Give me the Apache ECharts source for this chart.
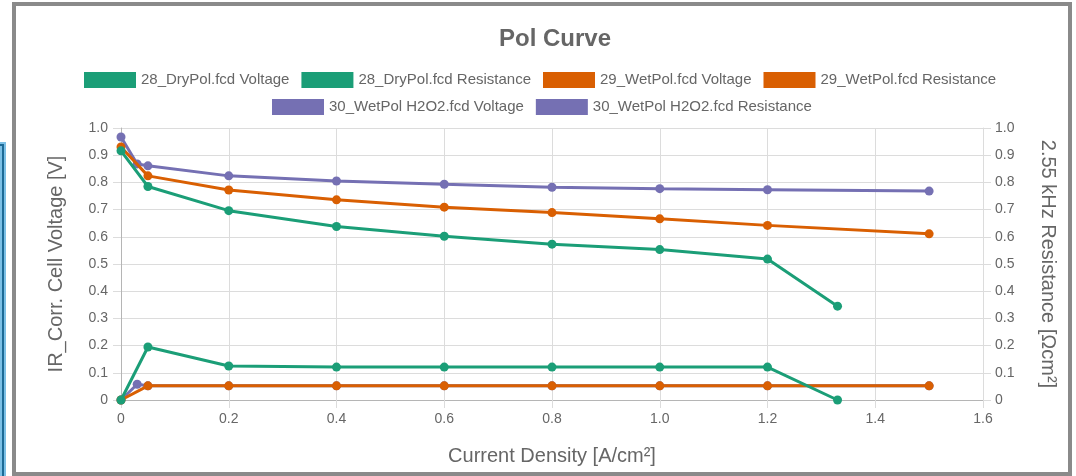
<!DOCTYPE html>
<html><head><meta charset="utf-8">
<script src="https://cdn.jsdelivr.net/npm/echarts@6/dist/echarts.min.js"></script>
<style>
html,body{margin:0;padding:0;background:#fff;width:1076px;height:476px;overflow:hidden;}
#chart{position:absolute;left:0;top:0;width:1076px;height:476px;}
#frame{position:absolute;left:12px;top:2px;width:1060px;height:474px;box-sizing:border-box;border:4px solid #8a8a8a;pointer-events:none;}
#side{position:absolute;left:-100px;top:144px;width:104px;height:400px;box-sizing:border-box;border:2px solid #1d6a96;box-shadow:0 0 0 2px #7cc0e6, inset 0 0 0 2px #7cc0e6;}
</style></head><body>
<div id="side"></div>
<div id="chart"></div>
<div id="frame"></div>
<script>
// ---- data ----
const seriesNames = [
  '28_DryPol.fcd Voltage', '28_DryPol.fcd Resistance',
  '29_WetPol.fcd Voltage', '29_WetPol.fcd Resistance',
  '30_WetPol H2O2.fcd Voltage', '30_WetPol H2O2.fcd Resistance'
];
const currentDry = [0, 0.05, 0.2, 0.4, 0.6, 0.8, 1.0, 1.2, 1.33];
const voltageDry = [0.916, 0.785, 0.696, 0.638, 0.602, 0.573, 0.553, 0.518, 0.345];
const resistanceDry = [0, 0.195, 0.125, 0.121, 0.121, 0.121, 0.121, 0.121, 0];
const currentWet = [0, 0.05, 0.2, 0.4, 0.6, 0.8, 1.0, 1.2, 1.5];
const voltageWet = [0.930, 0.824, 0.772, 0.736, 0.709, 0.689, 0.666, 0.642, 0.611];
const resistanceWet = [0, 0.052, 0.052, 0.052, 0.052, 0.052, 0.052, 0.052, 0.052];
const currentH2O2 = [0, 0.03, 0.05, 0.2, 0.4, 0.6, 0.8, 1.0, 1.2, 1.5];
const voltageH2O2 = [0.967, 0.868, 0.861, 0.824, 0.805, 0.793, 0.782, 0.777, 0.773, 0.768];
const resistanceH2O2 = [0, 0.058, 0.052, 0.052, 0.052, 0.052, 0.052, 0.052, 0.052, 0.052];
const colors = ['#1b9e77', '#1b9e77', '#d95f02', '#d95f02', '#7570b3', '#7570b3'];

const FONT = '"Liberation Sans", Arial, Helvetica, sans-serif';
const pair = (xs, ys) => xs.map((x, i) => [x, ys[i]]);
const fmt = v => (v === 0 ? '0' : v.toFixed(1));

const dataSets = [
  pair(currentDry, voltageDry), pair(currentDry, resistanceDry),
  pair(currentWet, voltageWet), pair(currentWet, resistanceWet),
  pair(currentH2O2, voltageH2O2), pair(currentH2O2, resistanceH2O2)
];
const zOrder = [6, 6, 4, 4, 2, 2];

const series = dataSets.map((d, i) => ({
  name: seriesNames[i],
  type: 'line',
  yAxisIndex: i % 2,
  data: d,
  color: colors[i],
  z: zOrder[i],
  symbol: 'circle',
  symbolSize: 9,
  showAllSymbol: true,
  lineStyle: { width: 3, color: colors[i] },
  itemStyle: { color: colors[i] },
  animation: false
}));

const gridColor = '#dcdcdc';
const zeroColor = '#b5b5b5';
const labelStyle = { fontSize: 14, color: '#666', fontFamily: FONT };
const nameStyle = { fontSize: 20, color: '#666', fontFamily: FONT };

const legendCommon = {
  icon: 'rect', itemWidth: 52, itemHeight: 16, itemGap: 12, padding: 0,
  textStyle: { fontSize: 15, color: '#666', fontFamily: FONT },
  orient: 'horizontal'
};

const chart = echarts.init(document.getElementById('chart'));
chart.setOption({
  animation: false,
  backgroundColor: 'transparent',
  title: {
    text: 'Pol Curve', left: 550, top: 22, textAlign: 'center',
    textStyle: { fontSize: 24, fontWeight: 'bold', color: '#666', fontFamily: FONT }
  },
  legend: [
    Object.assign({}, legendCommon, { data: seriesNames.slice(0, 4), left: 84, top: 72 }),
    Object.assign({}, legendCommon, { data: seriesNames.slice(4), left: 272, top: 99 })
  ],
  grid: { left: 121, right: 93, top: 128, bottom: 76, containLabel: false },
  xAxis: {
    type: 'value', min: 0, max: 1.6, interval: 0.2,
    name: 'Current Density [A/cm²]', nameLocation: 'middle', nameGap: 46,
    nameTextStyle: nameStyle,
    axisLine: { show: true, lineStyle: { color: zeroColor, width: 1 } },
    axisTick: { show: true, length: 8, lineStyle: { color: gridColor } },
    axisLabel: Object.assign({ margin: 12, formatter: fmt }, labelStyle),
    splitLine: { show: true, lineStyle: { color: gridColor, width: 1 } }
  },
  yAxis: [
    {
      type: 'value', position: 'left', min: 0, max: 1, interval: 0.1,
      name: 'IR_Corr. Cell Voltage [V]', nameLocation: 'middle', nameGap: 55,
      nameTextStyle: nameStyle,
      axisLine: { show: true, lineStyle: { color: zeroColor, width: 1 } },
      axisTick: { show: true, length: 8, lineStyle: { color: gridColor } },
      axisLabel: Object.assign({ margin: 13, formatter: fmt }, labelStyle),
      splitLine: { show: true, lineStyle: { color: gridColor, width: 1 } }
    },
    {
      type: 'value', position: 'right', min: 0, max: 1, interval: 0.1,
      name: '2.55 kHz Resistance [Ωcm²]', nameLocation: 'middle', nameGap: 55, nameRotate: -90,
      nameTextStyle: nameStyle,
      axisLine: { show: true, lineStyle: { color: gridColor, width: 1 } },
      axisTick: { show: true, length: 8, lineStyle: { color: gridColor } },
      axisLabel: Object.assign({ margin: 12, formatter: fmt }, labelStyle),
      splitLine: { show: false }
    }
  ],
  series: series
});
</script>
</body></html>
